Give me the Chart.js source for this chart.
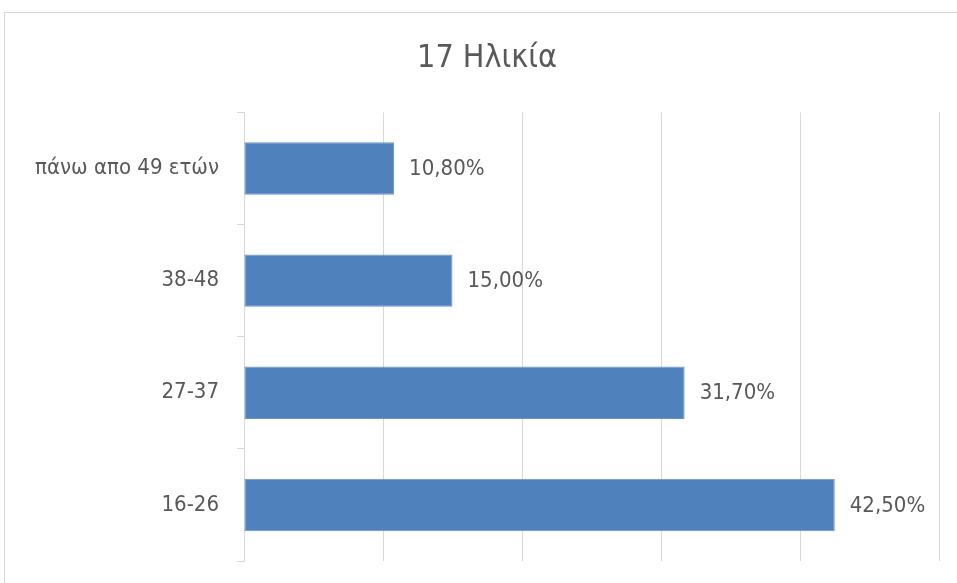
<!DOCTYPE html>
<html>
<head>
<meta charset="utf-8">
<script src="https://cdn.jsdelivr.net/npm/chart.js@4.4.1/dist/chart.umd.min.js"></script>
<style>
    html, body { margin: 0; padding: 0; background: #fff; }
    #wrap { position: relative; width: 957px; height: 583px; overflow: hidden; }
    #frame { position: absolute; left: 4px; top: 12px; width: 960px; height: 600px; border: 1px solid #d9d9d9; box-sizing: border-box; }
    canvas { position: absolute; left: 0; top: 0; }
</style>
</head>
<body>
<div id="wrap">
    <div id="frame"></div>
    <canvas id="ageChart" width="957" height="583"></canvas>
</div>
<script>
// Chart data
const chartTitle = '17 Ηλικία';
const ageGroups = ['πάνω απο 49 ετών', '38-48', '27-37', '16-26'];
const percentages = [10.8, 15.0, 31.7, 42.5];

const textColor = '#595959';
const gridColor = '#d9d9d9';
const fontFamily = "'Liberation Sans Narrow', 'DejaVu Sans Condensed', 'Liberation Sans', sans-serif";

// Draw value labels to the right of each bar
const valueLabels = {
    id: 'valueLabels',
    afterDatasetsDraw(chart) {
        const ctx = chart.ctx;
        const meta = chart.getDatasetMeta(0);
        ctx.save();
        ctx.font = '22px ' + fontFamily;
        ctx.fillStyle = textColor;
        ctx.textAlign = 'left';
        ctx.textBaseline = 'middle';
        meta.data.forEach((bar, i) => {
            const txt = percentages[i].toFixed(2).replace('.', ',') + '%';
            ctx.fillText(txt, bar.x + 15, bar.y + 1);
        });
        ctx.restore();
    }
};

new Chart(document.getElementById('ageChart'), {
    type: 'bar',
    data: {
        labels: ageGroups,
        datasets: [{
            data: percentages,
            backgroundColor: '#4f81bd',
            borderColor: '#6b95c9',
            borderWidth: 1,
            borderSkipped: false,
            barPercentage: 0.468,
            categoryPercentage: 1
        }]
    },
    options: {
        indexAxis: 'y',
        responsive: false,
        animation: false,
        layout: { padding: { left: 35, right: 18, bottom: 22 } },
        plugins: {
            legend: { display: false },
            tooltip: { enabled: false },
            title: {
                display: true,
                text: chartTitle,
                color: textColor,
                font: { family: fontFamily, size: 32, weight: 'normal' },
                padding: { top: 39, bottom: 35 }
            }
        },
        scales: {
            x: {
                min: 0,
                max: 50,
                ticks: { display: false, stepSize: 10 },
                border: { display: false },
                grid: { color: gridColor, drawTicks: false },
                afterFit(scale) { scale.height = 0; }
            },
            y: {
                offset: true,
                border: { display: true, color: gridColor },
                grid: { offset: true, drawOnChartArea: false, drawTicks: true, tickLength: 7, color: gridColor },
                ticks: { color: textColor, padding: 18, font: { family: fontFamily, size: 22 } },
                afterFit(scale) {
                    scale.width = 209;
                    // labels are centred in their bands, no extra room needed
                    scale.paddingTop = 0;
                    scale.paddingBottom = 0;
                }
            }
        }
    },
    plugins: [valueLabels]
});
</script>
</body>
</html>
